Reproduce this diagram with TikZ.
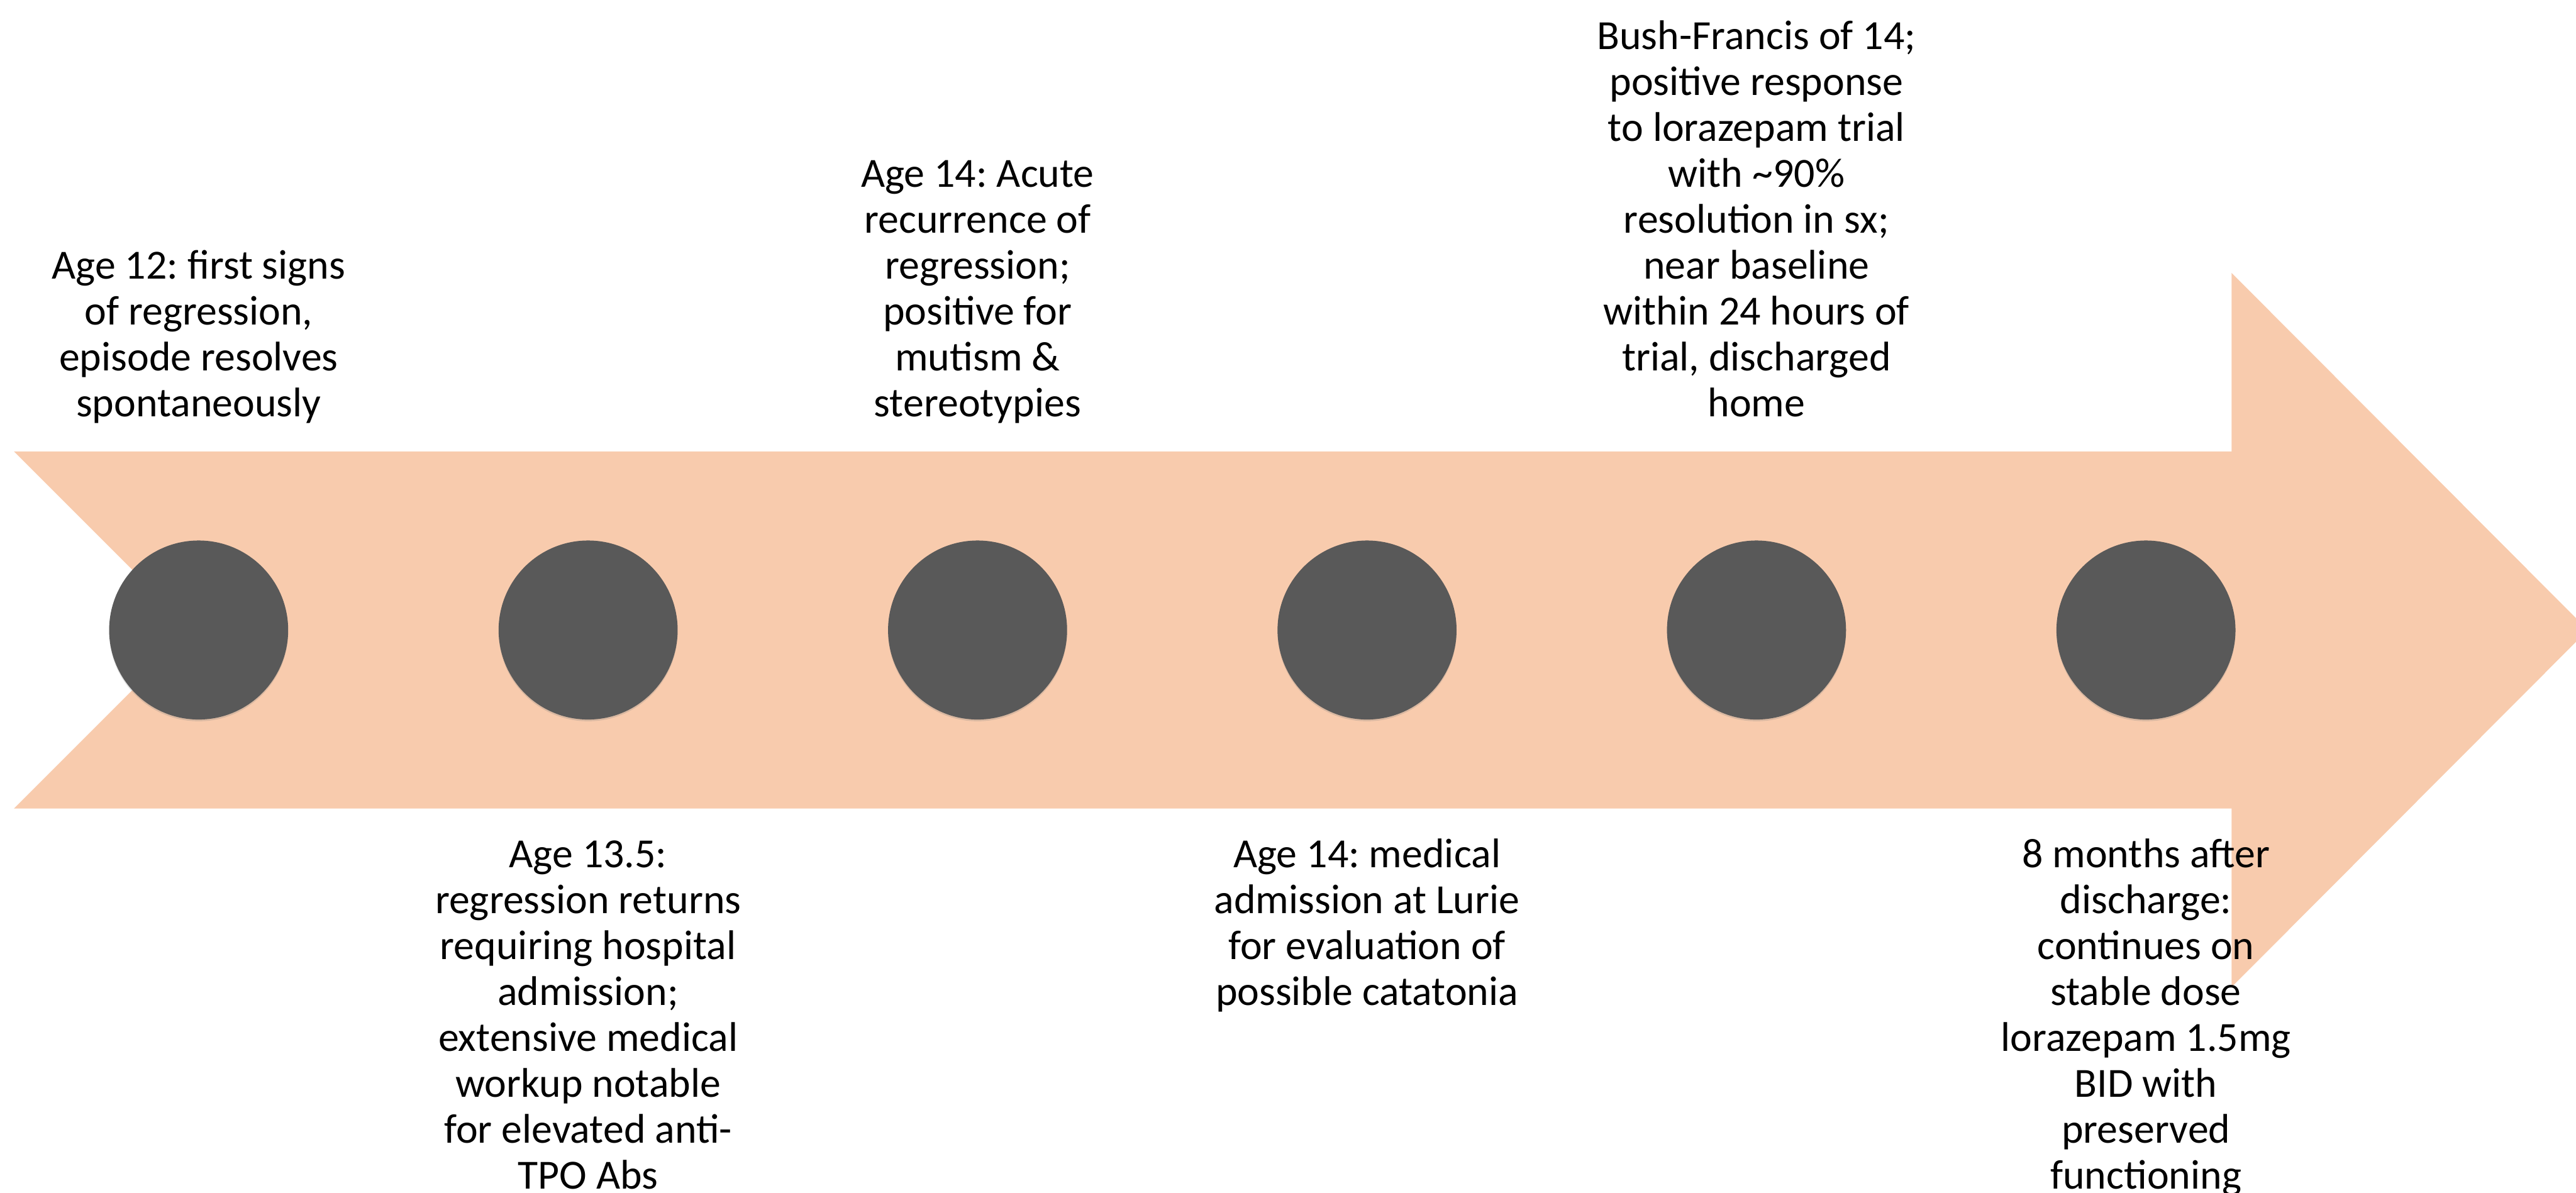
\documentclass[tikz,border=0pt]{standalone}
\usepackage{fontspec}
\setmainfont{Carlito}
\usetikzlibrary{shadows}
\definecolor{peach}{HTML}{F8CBAD}
\definecolor{dotgray}{HTML}{595959}
\frenchspacing
\begin{document}
\frenchspacing
\begin{tikzpicture}[x=1cm,y=1cm,
  eventdot/.style={circle, fill=dotgray, minimum size=4.1cm, inner sep=0pt,
    drop shadow={shadow xshift=0pt, shadow yshift=-0.04cm, opacity=0.25}},
  evtext/.style={font=\fontsize{27pt}{29.9pt}\selectfont\frenchspacing, align=center, inner sep=0pt, anchor=base}]
\useasboundingbox (0,0) rectangle (59,27.32);
% arrow
\fill[peach] (0.32,16.98) -- (51.11,16.98) -- (51.11,21.07) -- (59.27,12.89)
  -- (51.11,4.71) -- (51.11,8.80) -- (0.32,8.80) -- (4.41,12.89) -- cycle;
% dots
\node[eventdot] (e1) at (4.55,12.89) {};
\node[eventdot] (e2) at (13.47,12.89) {};
\node[eventdot] (e3) at (22.39,12.89) {};
\node[eventdot] (e4) at (31.31,12.89) {};
\node[eventdot] (e5) at (40.23,12.89) {};
\node[eventdot] (e6) at (49.15,12.89) {};
% top texts
\node[evtext] (t1) at (4.55,17.78) {Age 12: first signs\\of regression,\\episode resolves\\spontaneously};
\node[evtext] (t3) at (22.39,17.78) {Age 14: Acute\\recurrence of\\regression;\\positive for\\mutism \&\\stereotypies};
\node[evtext] (t5) at (40.23,17.78) {Bush-Francis of 14;\\positive response\\to lorazepam trial\\with \textasciitilde90\%\\resolution in sx;\\near baseline\\within 24 hours of\\trial, discharged\\home};
% bottom texts
\node[evtext] (t2) at (13.47,0.09) {Age 13.5:\\regression returns\\requiring hospital\\admission;\\extensive medical\\workup notable\\for elevated anti-\\TPO Abs};
\node[evtext] (t4) at (31.31,4.29) {Age 14: medical\\admission at Lurie\\for evaluation of\\possible catatonia};
\node[evtext] (t6) at (49.15,0.09) {8 months after\\discharge:\\continues on\\stable dose\\lorazepam 1.5mg\\BID with\\preserved\\functioning};
\end{tikzpicture}
\end{document}
